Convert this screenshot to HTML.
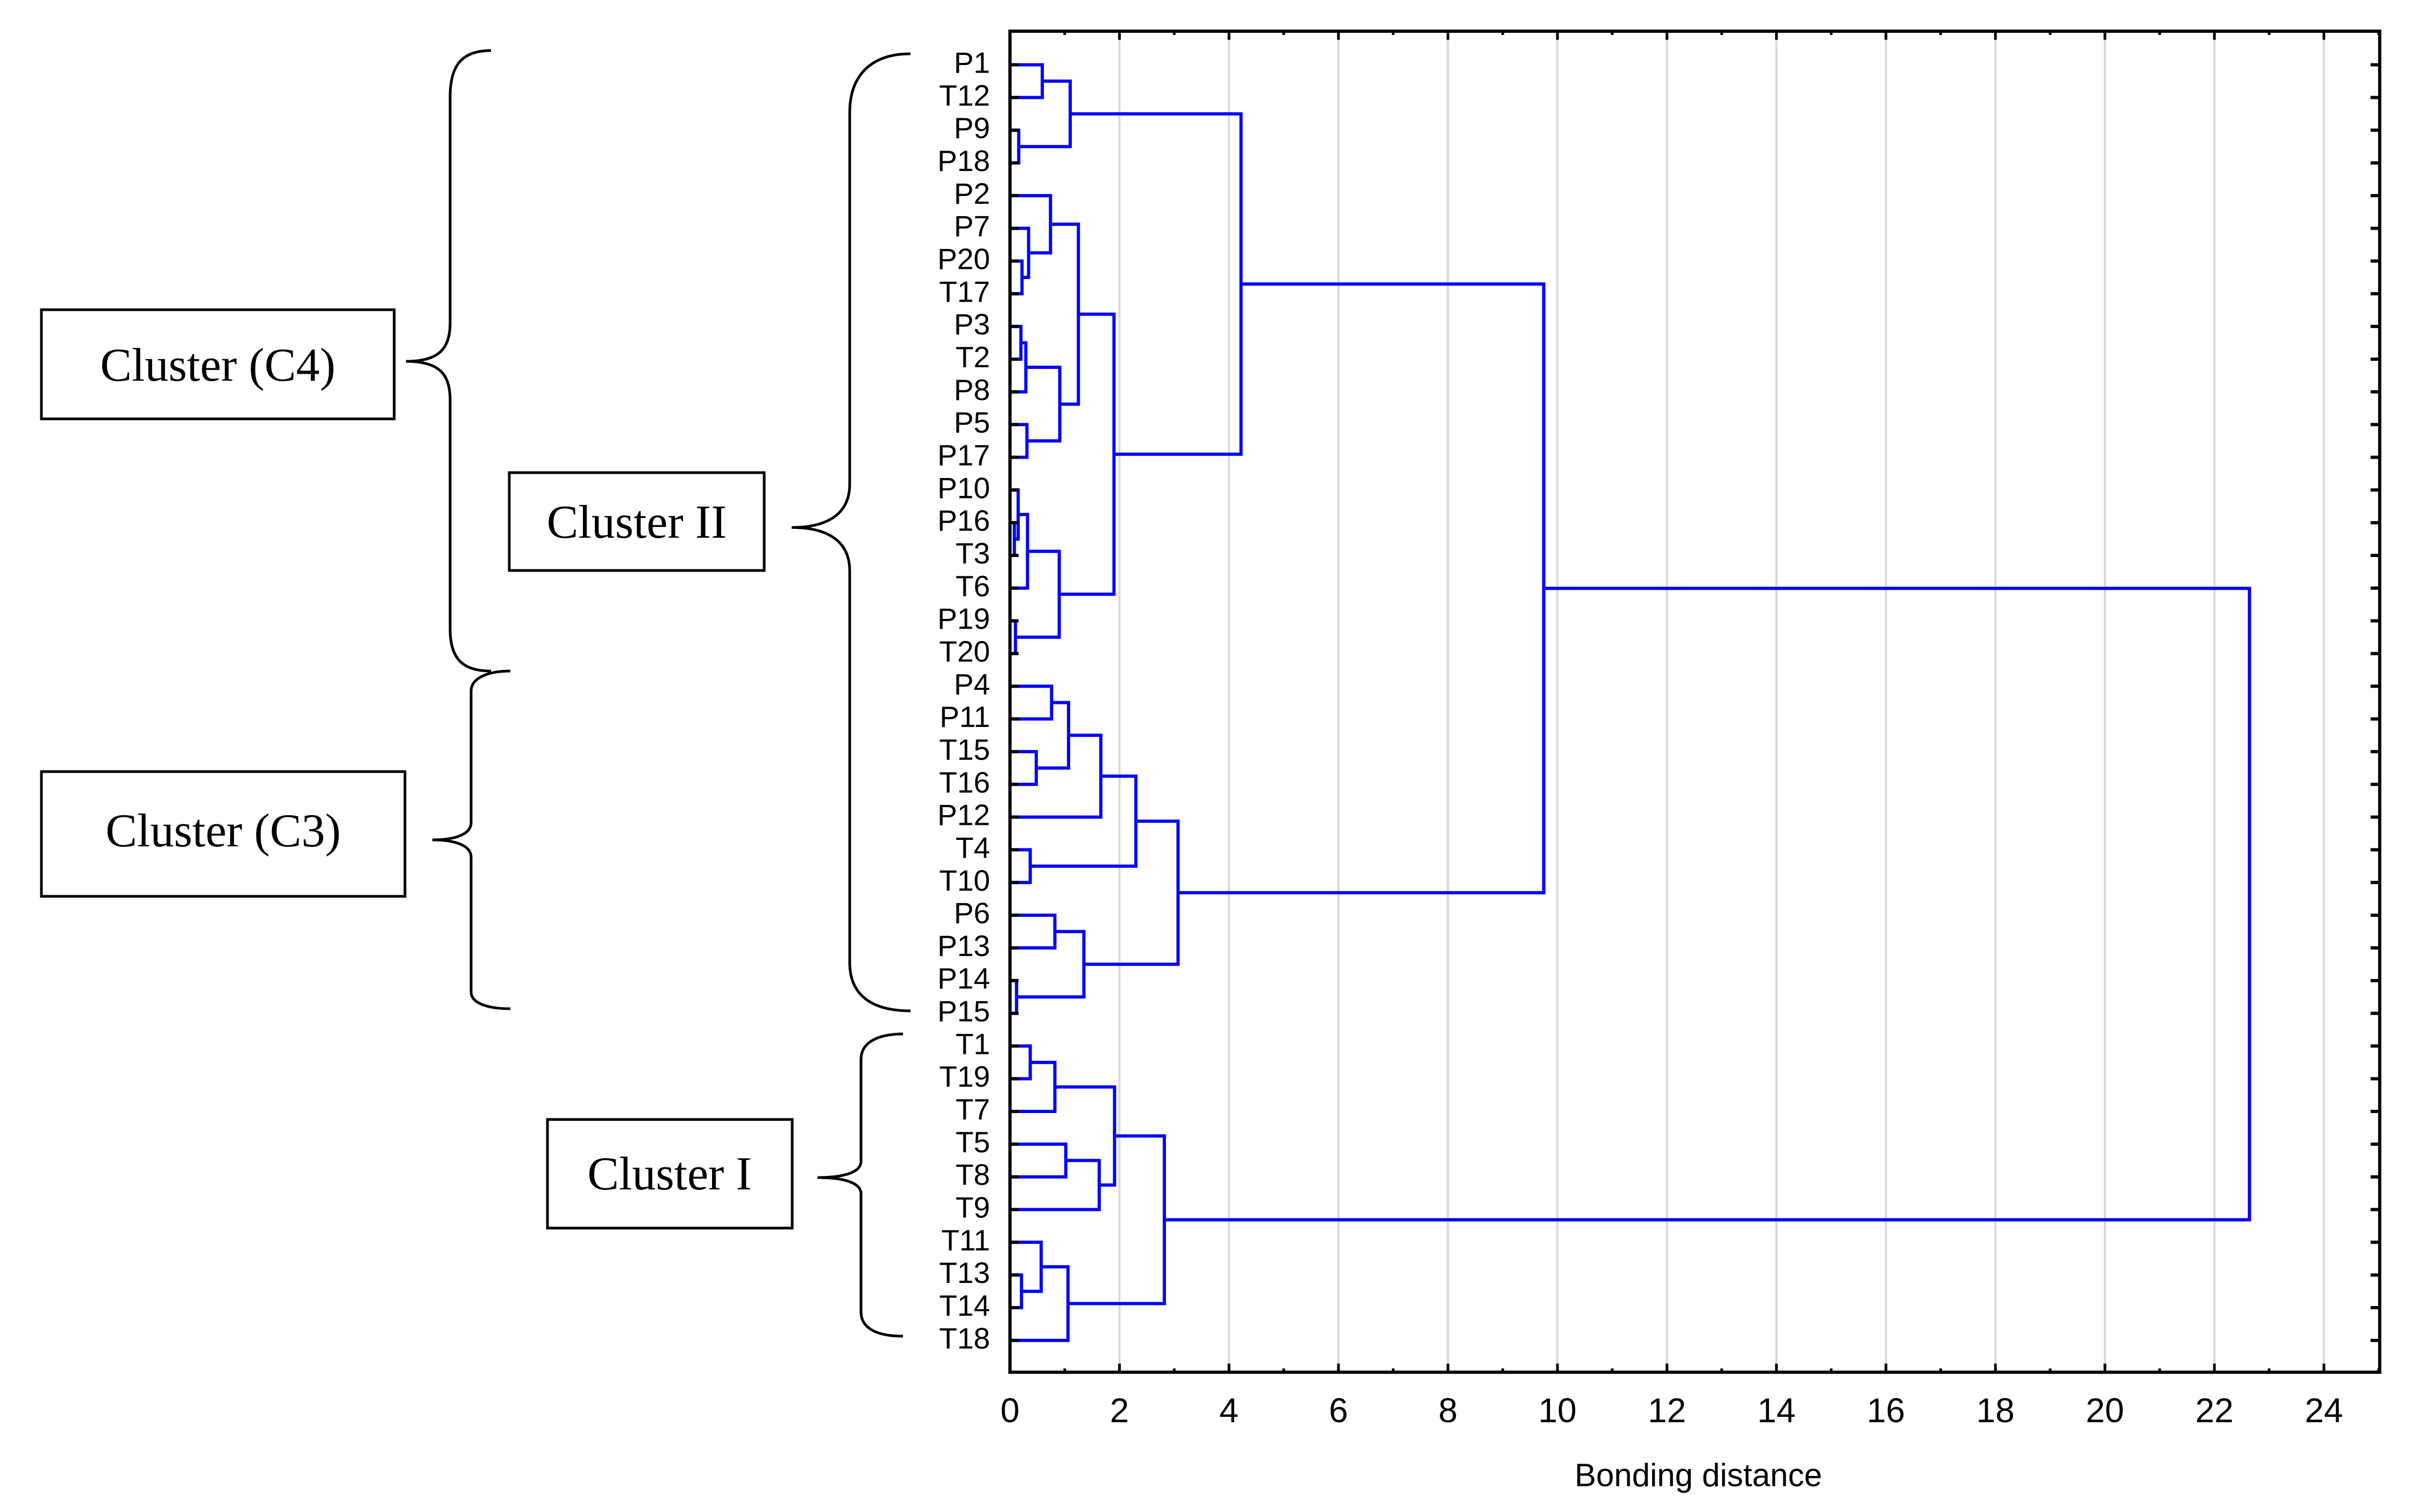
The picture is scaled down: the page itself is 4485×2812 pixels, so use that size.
<!DOCTYPE html>
<html><head><meta charset="utf-8"><style>
html,body{margin:0;padding:0;background:#fff;}
svg{display:block;}
</style></head><body>
<svg id="chart" width="4485" height="2812" viewBox="0 0 4485 2812" xmlns="http://www.w3.org/2000/svg">
<rect x="0" y="0" width="4485" height="2812" fill="#fff"/>
<g id="grid"></g>
<g id="tree"></g>
<g id="axes"></g>
<text x="3158" y="2764" font-family="Liberation Sans, sans-serif" font-size="60" text-anchor="middle">Bonding distance</text>
<g fill="none" stroke="#000" stroke-width="5">
<rect x="77" y="576" width="656" height="203"/>
<path d="M913,94 C860,94 837,120 837,180 L837,600 C837,650 815,672 755,672 C815,672 837,694 837,744 L837,1170 C837,1225 860,1248 913,1248"/>
<rect x="947" y="879" width="474" height="182"/>
<path d="M1693,100 C1620,100 1580,140 1580,210 L1580,900 C1580,955 1540,981 1472,981 C1540,981 1580,1007 1580,1062 L1580,1790 C1580,1850 1620,1880 1693,1880"/>
<rect x="77" y="1435" width="676" height="232"/>
<path d="M949,1248 C905,1248 876,1262 876,1285 L876,1530 C876,1550 850,1562 804,1562 C850,1562 876,1574 876,1594 L876,1845 C876,1865 905,1876 949,1876"/>
<rect x="1018" y="2082" width="455" height="202"/>
<path d="M1679,1923 C1630,1923 1601,1940 1601,1970 L1601,2160 C1601,2180 1570,2190 1520,2190 C1570,2190 1601,2200 1601,2220 L1601,2440 C1601,2470 1630,2485 1679,2485"/>
</g>
<g font-family="Liberation Serif, serif" font-size="88" fill="#000" text-anchor="middle">
<text x="405" y="708">Cluster (C4)</text>
<text x="1184" y="1000">Cluster II</text>
<text x="415" y="1574">Cluster (C3)</text>
<text x="1245" y="2212">Cluster I</text>
</g>
</svg>
<script>
const leafLabels = ["P1","T12","P9","P18","P2","P7","P20","T17","P3","T2","P8","P5","P17","P10","P16","T3","T6","P19","T20","P4","P11","T15","T16","P12","T4","T10","P6","P13","P14","P15","T1","T19","T7","T5","T8","T9","T11","T13","T14","T18"];
const mergeLeft  = [0,2,40,6,5,4,8,46,11,47,45,14,13,52,17,53,50,42,19,21,58,60,24,61,28,26,65,63,57,30,69,33,71,70,37,36,75,73,68];
const mergeRight = [1,3,41,7,43,44,9,10,12,48,49,15,51,16,18,54,55,56,20,22,59,23,25,62,29,27,64,66,67,31,32,34,35,72,38,74,39,76,77];
const mergeHeight= [0.59,0.16,1.1,0.22,0.34,0.74,0.2,0.29,0.31,0.91,1.25,0.08,0.15,0.32,0.1,0.9,1.9,4.22,0.76,0.48,1.07,1.66,0.37,2.3,0.12,0.82,1.35,3.07,9.75,0.37,0.82,1.02,1.63,1.91,0.21,0.57,1.06,2.82,22.64];
const xTicks = [0,2,4,6,8,10,12,14,16,18,20,22,24];

const NS="http://www.w3.org/2000/svg";
const L=1878,R=4425,T=58,B=2552;
const xs=v=>L+v*101.8;
const ys=i=>120.5+i*60.83;
function mk(tag,attrs,parent){const e=document.createElementNS(NS,tag);for(const k in attrs)e.setAttribute(k,attrs[k]);parent.appendChild(e);return e;}
const grid=document.getElementById('grid'),tree=document.getElementById('tree'),axes=document.getElementById('axes');
xTicks.forEach(v=>{if(v===0)return;
 const g=mk('line',{x1:xs(v),x2:xs(v),y1:T,y2:B,stroke:'#d9d9d9','stroke-width':4},grid);
 
 
});
const pos={};
leafLabels.forEach((l,i)=>{pos[i]={x:0,y:ys(i)};});
mergeLeft.forEach((a,k)=>{
 const b=mergeRight[k],h=mergeHeight[k];
 const pa=pos[a],pb=pos[b];
 const d=`M${xs(pa.x)},${pa.y} H${xs(h)} V${pb.y} H${xs(pb.x)}`;
 const p=mk('path',{d:d,fill:'none',stroke:'#0000ff','stroke-width':6},tree);
 
 
 pos[40+k]={x:h,y:(pa.y+pb.y)/2};
});
const fr=mk('rect',{x:L,y:T,width:R-L,height:B-T,fill:'none',stroke:'#000','stroke-width':6},axes);


leafLabels.forEach((l,i)=>{
 const y=ys(i);
 const t=mk('line',{x1:L,x2:L+16,y1:y,y2:y,stroke:'#000','stroke-width':6},axes);
 
 
 const t2=mk('line',{x1:R-17,x2:R,y1:y,y2:y,stroke:'#000','stroke-width':6},axes);
 
 
 const tx=mk('text',{x:1841,y:y+15,'font-family':'Liberation Sans, sans-serif','font-size':55,'text-anchor':'end'},axes);
 tx.textContent=l;
 
 
});
for(let v=0;v<=25;v++){
 const major=v%2===0,len=major?16:7;
 const a=mk('line',{x1:xs(v),x2:xs(v),y1:B,y2:B-len,stroke:'#000','stroke-width':5},axes);
 
 
 const c=mk('line',{x1:xs(v),x2:xs(v),y1:T,y2:T+len,stroke:'#000','stroke-width':5},axes);
 
 
}
xTicks.forEach(v=>{
 const t=mk('text',{x:xs(v),y:2645,'font-family':'Liberation Sans, sans-serif','font-size':64,'text-anchor':'middle'},axes);
 t.textContent=v;
 
 
});
</script>
</body></html>
